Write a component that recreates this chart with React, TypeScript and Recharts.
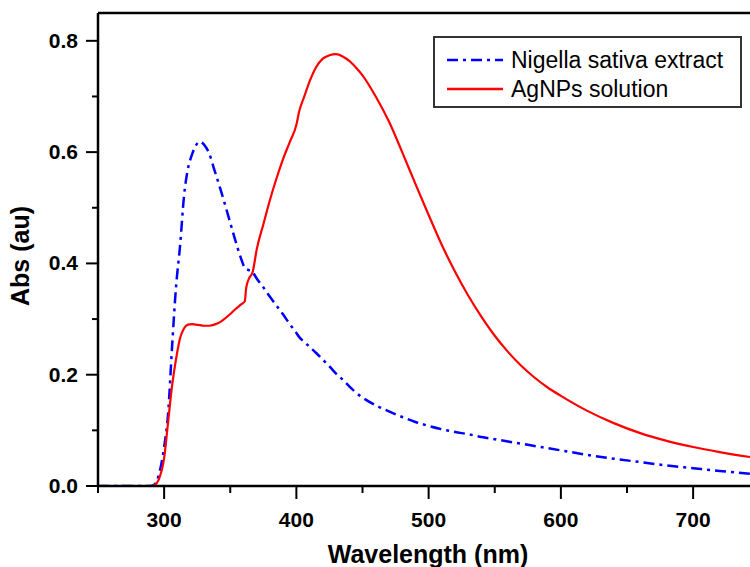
import React from 'react';
import { LineChart, Line, XAxis, YAxis, ReferenceLine } from 'recharts';

// wavelength grid (nm) shared by both spectra
const wavelength = [
  250, 270, 290, 293, 296, 300, 303, 306, 309, 312, 315, 318, 321, 324, 327, 330, 334, 338, 342, 346,
  350, 354, 358, 361, 362, 364, 367, 370, 375, 380, 385, 390, 395, 400, 402, 406, 410, 415, 420, 425,
  430, 435, 440, 445, 450, 460, 470, 480, 490, 500, 510, 520, 530, 540, 550, 560, 570, 580, 590, 600,
  620, 640, 660, 680, 700, 720, 743,
];

const nigella = [
  0, 0, 0, 0.003, 0.02, 0.07, 0.13, 0.25, 0.358, 0.43, 0.52, 0.57, 0.595, 0.612, 0.619, 0.614, 0.598, 0.568, 0.538, 0.506,
  0.473, 0.44, 0.41, 0.392, 0.39, 0.388, 0.384, 0.373, 0.357, 0.34, 0.324, 0.308, 0.291, 0.275, 0.268, 0.259, 0.25, 0.239, 0.227, 0.215,
  0.202, 0.191, 0.179, 0.168, 0.159, 0.145, 0.134, 0.124, 0.115, 0.108, 0.102, 0.097, 0.093, 0.088, 0.084, 0.08, 0.076, 0.072, 0.068, 0.064,
  0.056, 0.049, 0.043, 0.037, 0.032, 0.027, 0.022,
];

const agnps = [
  0, 0, 0, 0.002, 0.012, 0.05, 0.115, 0.18, 0.228, 0.265, 0.283, 0.29, 0.291, 0.29, 0.289, 0.288, 0.288, 0.29, 0.294, 0.301,
  0.309, 0.318, 0.326, 0.332, 0.355, 0.372, 0.385, 0.425, 0.47, 0.514, 0.553, 0.588, 0.618, 0.649, 0.672, 0.7, 0.727, 0.753, 0.768, 0.774,
  0.776, 0.772, 0.764, 0.752, 0.738, 0.7, 0.655, 0.6, 0.543, 0.487, 0.433, 0.385, 0.342, 0.304, 0.27, 0.241, 0.216, 0.195, 0.177, 0.162,
  0.135, 0.113, 0.095, 0.081, 0.07, 0.061, 0.052,
];

const xTicks = [250, 300, 350, 400, 450, 500, 550, 600, 650, 700];
const xLabels = [300, 400, 500, 600, 700];
const yTicks = [0, 0.1, 0.2, 0.3, 0.4, 0.5, 0.6, 0.7, 0.8];
const yLabels = [0, 0.2, 0.4, 0.6, 0.8];

const seriesNames = ['Nigella sativa extract', 'AgNPs solution'];

const data = wavelength.map((w, i) => ({ w, nigella: nigella[i], ag: agnps[i] }));

const font = '"Liberation Sans", Arial, sans-serif';

const XTick = (props: any) => {
  const { x, y, payload } = props;
  const major = xLabels.includes(payload.value);
  return (
    <g>
      <line x1={x} x2={x} y1={y} y2={y + (major ? 13 : 7)} stroke="#000" strokeWidth={2} />
      {major && (
        <text x={x} y={y + 41} textAnchor="middle" fontFamily={font} fontWeight="bold" fontSize={21} fill="#000">
          {payload.value}
        </text>
      )}
    </g>
  );
};

const YTick = (props: any) => {
  const { x, y, payload } = props;
  const major = yLabels.some((v) => Math.abs(v - payload.value) < 1e-9);
  return (
    <g>
      <line x1={x} x2={x - (major ? 12 : 6)} y1={y} y2={y} stroke="#000" strokeWidth={2} />
      {major && (
        <text x={x - 20} y={y + 7} textAnchor="end" fontFamily={font} fontWeight="bold" fontSize={21} fill="#000">
          {payload.value.toFixed(1)}
        </text>
      )}
    </g>
  );
};

export default function App() {
  return (
    <div style={{ position: 'absolute', left: 0, top: 0, width: 750, height: 567, background: '#fff' }}>
      <LineChart width={750} height={567} data={data} margin={{ top: 13, right: 0, bottom: 0, left: 0 }}>
        <XAxis
          dataKey="w"
          type="number"
          domain={[250, 743]}
          ticks={xTicks}
          height={81}
          tickSize={0}
          tickMargin={0}
          tickLine={false}
          tick={<XTick />}
          axisLine={{ stroke: '#000', strokeWidth: 2.5 }}
          allowDataOverflow
          label={{
            value: 'Wavelength (nm)',
            position: 'insideBottom',
            offset: 4,
            dx: 4,
            style: { fontFamily: font, fontWeight: 'bold', fontSize: 25, fill: '#000' },
          }}
        />
        <YAxis
          type="number"
          domain={[0, 0.85]}
          ticks={yTicks}
          width={98}
          tickSize={0}
          tickMargin={0}
          tickLine={false}
          tick={<YTick />}
          axisLine={{ stroke: '#000', strokeWidth: 2.5 }}
          allowDataOverflow
          label={{
            content: () => (
              <text
                x={20}
                y={256}
                transform="rotate(-90 20 256)"
                textAnchor="middle"
                dominantBaseline="central"
                fontFamily={font}
                fontWeight="bold"
                fontSize={25}
                fill="#000"
              >
                Abs (au)
              </text>
            ),
          }}
        />
        <ReferenceLine y={0.85} stroke="#000" strokeWidth={2.5} ifOverflow="visible" />
        <Line
          dataKey="nigella"
          name={seriesNames[0]}
          type="monotone"
          stroke="#0000ff"
          strokeWidth={2.5}
          strokeDasharray="11 5 3 5"
          dot={false}
          activeDot={false}
          isAnimationActive={false}
        />
        <Line
          dataKey="ag"
          name={seriesNames[1]}
          type="monotone"
          stroke="#ff0000"
          strokeWidth={2.2}
          dot={false}
          activeDot={false}
          isAnimationActive={false}
        />
      </LineChart>
      <div
        style={{
          position: 'absolute',
          left: 433,
          top: 36,
          width: 305,
          height: 68,
          border: '2px solid #333',
          fontFamily: font,
          fontSize: 23,
          color: '#000',
          boxSizing: 'content-box',
        }}
      >
        {seriesNames.map((name, i) => (
          <div key={name} style={{ position: 'absolute', left: 12, top: i === 0 ? 8 : 37, height: 28, display: 'flex', alignItems: 'center' }}>
            <svg width={58} height={10} style={{ marginRight: 6 }}>
              <line
                x1={0}
                x2={56}
                y1={5}
                y2={5}
                stroke={i === 0 ? '#0000ff' : '#ff0000'}
                strokeWidth={2.5}
                strokeDasharray={i === 0 ? '11 5 3 5' : undefined}
              />
            </svg>
            <span style={{ whiteSpace: 'nowrap' }}>{name}</span>
          </div>
        ))}
      </div>
    </div>
  );
}
